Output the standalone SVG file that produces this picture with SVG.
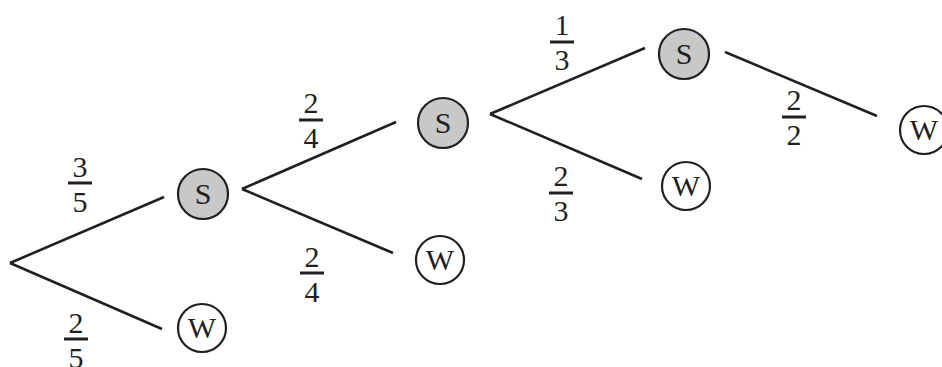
<svg xmlns="http://www.w3.org/2000/svg" width="942" height="367" viewBox="0 0 942 367">
<style>
.t{font-family:"Liberation Serif",serif;font-size:30px;fill:#231f20;text-anchor:middle}
.s circle{fill:#c8c8c8;stroke:#231f20;stroke-width:2.2}
.w circle{fill:#fff;stroke:#231f20;stroke-width:2.2}
.e line{stroke:#231f20;stroke-width:2.6;stroke-linecap:butt}
.bar{stroke:#231f20;stroke-width:3}
</style>
<rect width="942" height="367" fill="#fff"/>
<g id="connectors" class="e">
<line x1="10" y1="263" x2="164" y2="197"/>
<line x1="10" y1="263" x2="162" y2="329"/>
<line x1="242" y1="189" x2="396" y2="122"/>
<line x1="242" y1="189" x2="393" y2="253"/>
<line x1="490" y1="114" x2="645" y2="48"/>
<line x1="490" y1="114" x2="642" y2="179"/>
<line x1="725" y1="52" x2="877" y2="116"/>
</g>
<g id="labels">
<g id="f1"><text class="t" x="80" y="177">3</text><line class="bar" x1="68" y1="183" x2="92" y2="183"/><text class="t" x="80" y="212">5</text></g>
<g id="f2"><text class="t" x="76" y="333">2</text><line class="bar" x1="64" y1="339" x2="88" y2="339"/><text class="t" x="76" y="368">5</text></g>
<g id="f3"><text class="t" x="311" y="113">2</text><line class="bar" x1="299" y1="120" x2="323" y2="120"/><text class="t" x="311" y="148">4</text></g>
<g id="f4"><text class="t" x="312" y="267">2</text><line class="bar" x1="300" y1="273" x2="324" y2="273"/><text class="t" x="312" y="302">4</text></g>
<g id="f5"><text class="t" x="562" y="35">1</text><line class="bar" x1="550" y1="42" x2="574" y2="42"/><text class="t" x="562" y="70">3</text></g>
<g id="f6"><text class="t" x="561" y="186">2</text><line class="bar" x1="549" y1="193" x2="573" y2="193"/><text class="t" x="561" y="221">3</text></g>
<g id="f7"><text class="t" x="794" y="110">2</text><line class="bar" x1="782" y1="117" x2="806" y2="117"/><text class="t" x="794" y="145">2</text></g>
</g>
<g id="S1" class="s"><circle cx="203" cy="194" r="25"/><text class="t" x="203" y="204">S</text></g>
<g id="W1" class="w"><circle cx="202" cy="328" r="24"/><text class="t" x="202" y="338">W</text></g>
<g id="S2" class="s"><circle cx="443" cy="123" r="25"/><text class="t" x="443" y="133">S</text></g>
<g id="W2" class="w"><circle cx="440" cy="260" r="24"/><text class="t" x="440" y="270">W</text></g>
<g id="S3" class="s"><circle cx="684" cy="54" r="25"/><text class="t" x="684" y="64">S</text></g>
<g id="W3" class="w"><circle cx="686" cy="186" r="24"/><text class="t" x="686" y="196">W</text></g>
<g id="W4" class="w"><circle cx="924" cy="130" r="24"/><text class="t" x="924" y="140">W</text></g>
</svg>
